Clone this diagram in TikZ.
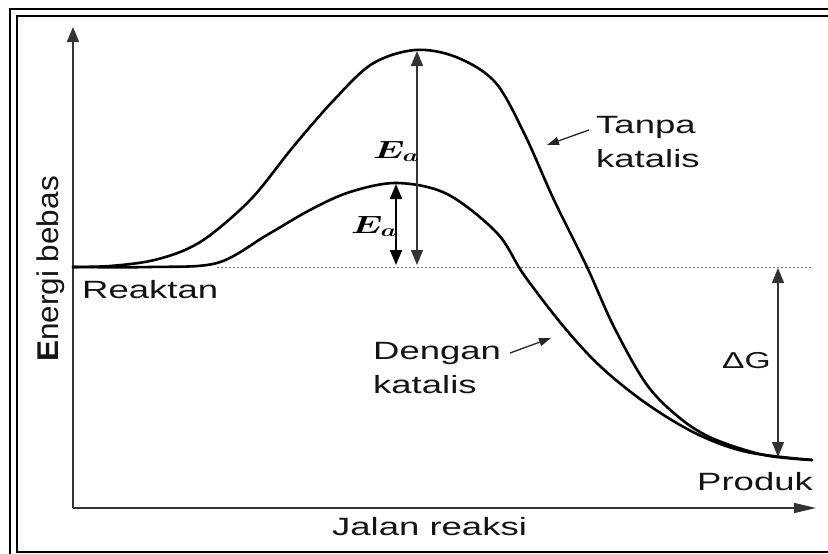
\documentclass[tikz,border=0pt]{standalone}
\usepackage{fontspec}
\usepackage{graphicx}
\usetikzlibrary{arrows.meta}
\newfontfamily\lbl[FakeStretch=1.46]{Liberation Sans}
\newfontfamily\lblv[FakeStretch=1.05]{Liberation Sans}
\begin{document}
\begin{tikzpicture}[x=1pt,y=-1pt,
  lab/.style={font=\lbl\fontsize{25}{30}\selectfont, inner sep=0pt, anchor=base west, text=black!92},
  ealab/.style={inner sep=0pt, anchor=base west},
  curve/.style={line width=2.6pt, line join=round, line cap=round},
  axisline/.style={line width=1.5pt, draw=black!80},
  vtip/.style={-{Triangle[length=15pt,width=12pt]}},
  htip/.style={-{Triangle[length=22pt,width=10pt]}},
  dblthin/.style={{Triangle[length=15pt,width=12pt]}-{Triangle[length=15pt,width=12pt]}, line width=1.3pt, draw=black!80},
  dblthick/.style={{Triangle[length=15pt,width=12pt]}-{Triangle[length=15pt,width=12pt]}, line width=2pt, draw=black},
  ptr/.style={-{Triangle[length=12pt,width=8pt]}, line width=1.3pt, draw=black!85},
  dotline/.style={line width=1pt, draw=black!55, dash pattern=on 2pt off 2pt}
]
\useasboundingbox (0,0) rectangle (828,554);
\fill[white] (0,0) rectangle (828,554);

% frame
\draw[line width=2.2pt] (10,554) -- (10,9) -- (828,9);
\draw[line width=1.3pt] (828,16) -- (17,16) -- (17,552) -- (828,552);

% axes
\coordinate (origin) at (73,508);
\coordinate (ytop) at (73,27);
\coordinate (xend) at (816,508);
\draw[axisline, vtip] (origin) -- (ytop);
\draw[axisline, htip] (origin) -- (xend);

% reactant level dotted line
\coordinate (dot1) at (217,267);
\coordinate (dot2) at (812,267);
\draw[dotline] (dot1) -- (dot2);

% curves
\draw[curve] plot[smooth, tension=0.55] coordinates {
  (73,267) (110,266) (150,261) (185,250) (213,233) (253,197) (293,147)
  (333,101) (372,64) (415,50) (456,57) (495,82) (524,133) (554,200)
  (587,267) (614,327) (647,385) (681,419) (714,439) (764,455) (812,460)};
\draw[curve] plot[smooth, tension=0.55] coordinates {
  (73,267) (150,267) (217,263) (267,235) (310,210) (350,192) (397,183)
  (447,194) (497,233) (524,275) (564,327) (601,367) (647,404)
  (697,434) (747,452) (812,460)};

% activation energy arrows
\coordinate (ea1t) at (417,51);
\coordinate (ea1b) at (417,265);
\coordinate (ea2t) at (396,184);
\coordinate (ea2b) at (396,265);
\draw[dblthin] (ea1b) -- (ea1t);
\draw[dblthick] (ea2b) -- (ea2t);
\node[ealab] (ea1) at (373,158) {\scalebox{1.46}[1]{\fontsize{25}{30}\selectfont\boldmath$E_a$}};
\node[ealab] (ea2) at (351,233) {\scalebox{1.46}[1]{\fontsize{25}{30}\selectfont\boldmath$E_a$}};

% delta G arrow
\coordinate (dgt) at (778,268);
\coordinate (dgb) at (778,457);
\draw[dblthin] (dgb) -- (dgt);
\node[lab, font=\lbl\fontsize{23}{28}\selectfont] (dg) at (722,368) {ΔG};

% labels
\node[lab] (tanpa) at (596,133) {Tanpa};
\node[lab] (tanpak) at (596,167) {katalis};
\node[lab] (dengan) at (373,359) {Dengan};
\node[lab] (dengank) at (373,393) {katalis};
\node[lab] (reaktan) at (82,298) {Reaktan};
\node[lab] (produk) at (697,490) {Produk};
\node[lab] (jalan) at (332,535) {Jalan reaksi};
\node[rotate=90, anchor=base west, inner sep=0pt, font=\lblv\fontsize{30}{36}\selectfont, text=black!92] (ylab) at (58,362) {\textbf{E}nergi bebas};

% pointer arrows
\coordinate (tp1) at (589,130);
\coordinate (tp2) at (547,145);
\draw[ptr] (tp1) -- (tp2);
\coordinate (dp1) at (510,353);
\coordinate (dp2) at (551,338);
\draw[ptr] (dp1) -- (dp2);
\end{tikzpicture}
\end{document}
